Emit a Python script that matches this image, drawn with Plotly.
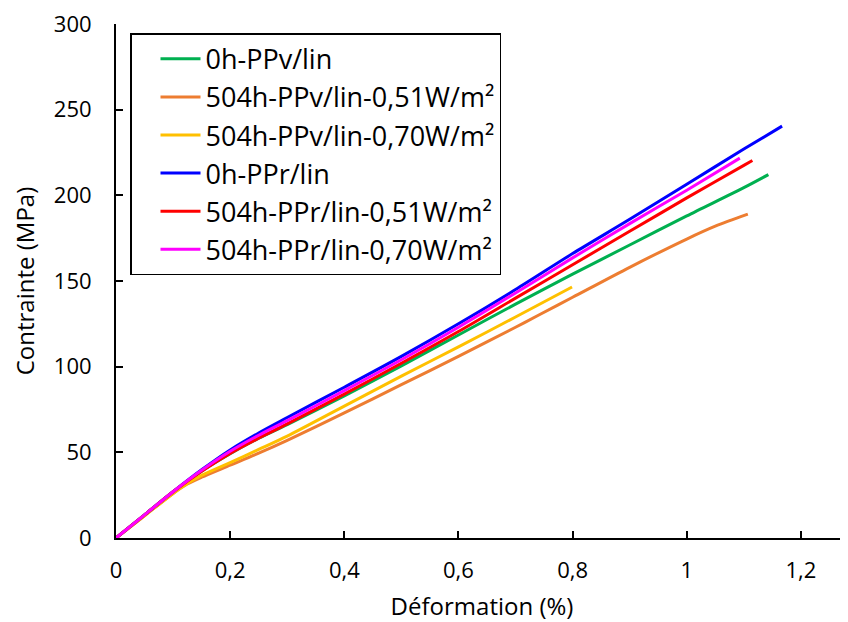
import plotly.graph_objects as go

# ---- data ----
names = [
    "0h-PPv/lin",
    "504h-PPv/lin-0,51W/m²",
    "504h-PPv/lin-0,70W/m²",
    "0h-PPr/lin",
    "504h-PPr/lin-0,51W/m²",
    "504h-PPr/lin-0,70W/m²",
]
colors = ["#00B050", "#ED7D31", "#FFC000", "#0000FF", "#FF0000", "#FF00FF"]

x_ppv_0h = [0, 0.05, 0.1, 0.15, 0.2, 0.25, 0.3, 0.4, 0.5, 0.6, 0.7, 0.8, 0.9, 1.0, 1.1, 1.143]
y_ppv_0h = [0, 13.5, 27, 39, 49.2, 58.2, 66.2, 83, 100.5, 118.5, 136.5, 154, 171, 188, 204.5, 212.1]

x_ppv_051 = [0, 0.05, 0.1, 0.125, 0.15, 0.2, 0.25, 0.3, 0.4, 0.5, 0.6, 0.7, 0.74, 0.8, 0.9, 1.0, 1.05, 1.107]
y_ppv_051 = [0, 13, 26, 31.5, 35.5, 42.5, 49.5, 57, 73, 89.5, 106, 123, 130, 140.5, 158, 174.5, 182, 189]

x_ppv_070 = [0, 0.05, 0.1, 0.125, 0.15, 0.2, 0.25, 0.3, 0.4, 0.5, 0.6, 0.7, 0.799]
y_ppv_070 = [0, 13, 26, 31.8, 36.5, 44, 51.7, 59.5, 77, 94.5, 111.5, 129, 146.5]

x_ppr_0h = [0, 0.05, 0.1, 0.15, 0.2, 0.25, 0.3, 0.4, 0.5, 0.6, 0.7, 0.8, 0.9, 1.0, 1.1, 1.167]
y_ppr_0h = [0, 13.5, 27, 39.8, 51.4, 61.3, 70.3, 88, 106, 125, 145, 166, 186, 206.5, 227, 240.4]

x_ppr_051 = [0, 0.05, 0.1, 0.15, 0.2, 0.25, 0.3, 0.4, 0.5, 0.6, 0.7, 0.8, 0.9, 1.0, 1.1, 1.115]
y_ppr_051 = [0, 13.5, 27, 39, 49.4, 58.3, 66.6, 84, 102, 120.5, 140, 159.5, 179, 198.5, 217.5, 220.3]

x_ppr_070 = [0, 0.05, 0.1, 0.15, 0.2, 0.25, 0.3, 0.4, 0.5, 0.6, 0.7, 0.8, 0.9, 1.0, 1.093]
y_ppr_070 = [0, 13.5, 27, 39.5, 50.6, 60, 68.5, 86, 104, 123, 143, 163.5, 183.5, 203, 221.7]

xs = [x_ppv_0h, x_ppv_051, x_ppv_070, x_ppr_0h, x_ppr_051, x_ppr_070]
ys = [y_ppv_0h, y_ppv_051, y_ppv_070, y_ppr_0h, y_ppr_051, y_ppr_070]

x_title = "Déformation (%)"
y_title = "Contrainte (MPa)"

FONT = "Open Sans, Segoe UI, Calibri, sans-serif"

fig = go.Figure()
for i, (n, c, x, y) in enumerate(zip(names, colors, xs, ys)):
    fig.add_trace(go.Scatter(
        x=x, y=y, name=n, mode="lines", legendgroup=f"g{i}",
        line=dict(color=c, width=3, shape="spline", smoothing=0.8),
    ))

# page has an 8px body margin: figure is sized so it fits the 848x622 window
fig.update_layout(
    width=840, height=614,
    margin=dict(l=108, r=0, t=16, b=84),
    paper_bgcolor="white", plot_bgcolor="white",
    separators=", ",
    font=dict(family=FONT, color="black", size=22),
    showlegend=True,
    legend=dict(
        x=14 / 732, y=0.982, xanchor="left", yanchor="top",
        bgcolor="white", bordercolor="black", borderwidth=1.5,
        font=dict(family=FONT, size=27, color="black"),
        tracegroupgap=0, traceorder="normal",
        itemwidth=40, indentation=24,
        entrywidth=330, entrywidthmode="pixels",
    ),
    xaxis=dict(
        range=[0, 1.2825], dtick=0.2, tick0=0, automargin=False,
        showgrid=False, zeroline=False,
        showline=True, linecolor="black", linewidth=2,
        ticks="inside", ticklen=7, tickwidth=1.5, tickcolor="black",
        ticklabelstandoff=12, ticklabeloverflow="allow",
        tickfont=dict(size=22),
        title=dict(text=x_title, font=dict(size=24), standoff=20),
    ),
    yaxis=dict(
        range=[0, 300], dtick=50, tick0=0, automargin=False,
        showgrid=False, zeroline=False,
        showline=True, linecolor="black", linewidth=2,
        ticks="inside", ticklen=7, tickwidth=1.5, tickcolor="black",
        ticklabelstandoff=18, ticklabeloverflow="allow",
        tickfont=dict(size=22),
        title=dict(text=y_title, font=dict(size=24), standoff=21),
    ),
)

fig.write_html("out.html")
